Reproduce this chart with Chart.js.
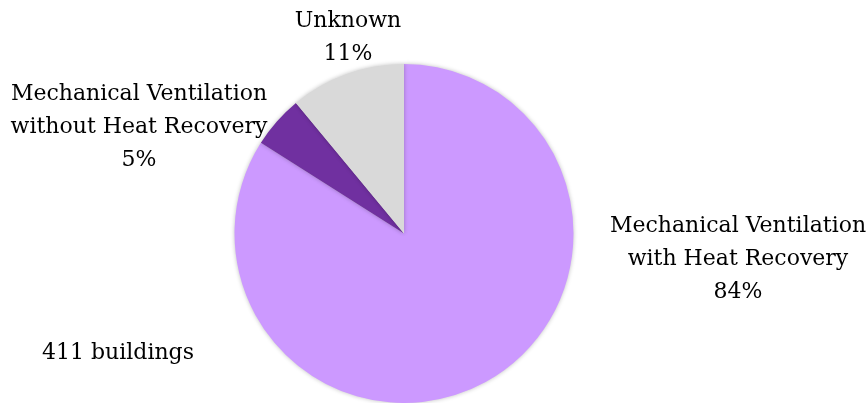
<!DOCTYPE html>
<html>
<head>
<meta charset="utf-8">
<script src="https://cdn.jsdelivr.net/npm/chart.js@4"></script>
<style>
  html, body { margin: 0; padding: 0; background: #fff; }
  #wrap { width: 867px; height: 403px; }
</style>
</head>
<body>
<div id="wrap"><canvas id="myChart" width="867" height="403"></canvas></div>
<script>
const labels = [
  ['Mechanical Ventilation', 'with Heat Recovery'],
  ['Mechanical Ventilation', 'without Heat Recovery'],
  ['Unknown']
];
const shares = [84, 5, 11];
const totalBuildings = 411;

const sliceColors = {
  withHR: '#CC99FF',
  withoutHR: '#7030A0',
  unknown: '#D9D9D9'
};

const FONT = '"DejaVu Serif", serif';

// label anchors, relative to pie centre (in px)
const labelOffsets = [
  { dx: 334, dy: -7 },
  { dx: -265, dy: -139 },
  { dx: -56, dy: -212 }
];

const pieLabels = {
  id: 'pieLabels',
  beforeDatasetsDraw(chart) {
    const ctx = chart.ctx;
    ctx.save();
    ctx.shadowColor = 'rgba(0,0,0,0.25)';
    ctx.shadowBlur = 4;
  },
  afterDatasetsDraw(chart) {
    const ctx = chart.ctx;
    ctx.restore();
    const meta = chart.getDatasetMeta(0);
    ctx.save();
    ctx.fillStyle = '#000';
    ctx.font = '22px ' + FONT;
    ctx.textAlign = 'center';
    ctx.textBaseline = 'middle';
    const lineH = 33;
    meta.data.forEach((arc, i) => {
      const off = labelOffsets[i];
      const lines = labels[i].concat([shares[i] + '%']);
      let y = arc.y + off.dy;
      lines.forEach(t => {
        ctx.fillText(t, arc.x + off.dx, y);
        y += lineH;
      });
    });
    ctx.textAlign = 'left';
    ctx.fillText(totalBuildings + ' buildings', 42, 353);
    ctx.restore();
  }
};

const ctx = document.getElementById('myChart').getContext('2d');
const myChart = new Chart(ctx, {
  type: 'pie',
  data: {
    labels: labels,
    datasets: [{
      data: shares,
      backgroundColor: [sliceColors.withHR, sliceColors.withoutHR, sliceColors.unknown],
      borderWidth: 0
    }]
  },
  options: {
    responsive: false,
    animation: false,
    layout: {
      padding: { top: 64, bottom: 0, left: 0, right: 59 }
    },
    plugins: {
      legend: { display: false },
      tooltip: { enabled: false }
    }
  },
  plugins: [pieLabels]
});
</script>
</body>
</html>
